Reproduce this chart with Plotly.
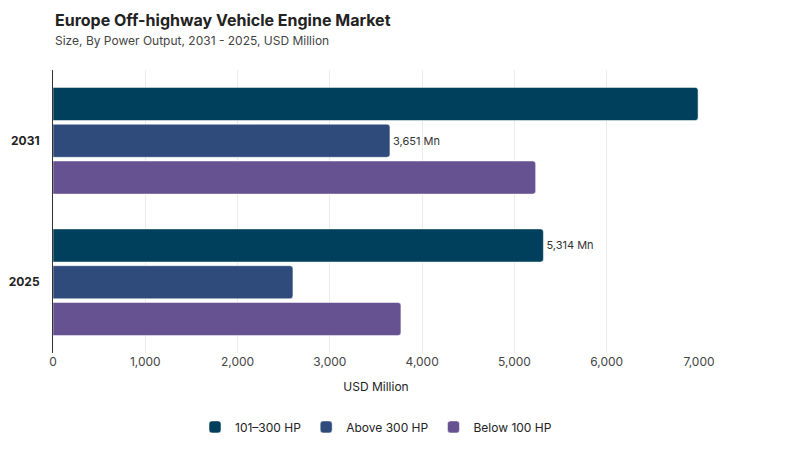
import plotly.graph_objects as go

years = ["2025", "2031"]
hp_101_300 = [5314, 6990]
above_300 = [2600, 3651]
below_100 = [3770, 5230]
labels_101_300 = ["5,314 Mn", ""]
labels_above_300 = ["", "3,651 Mn"]
labels_below_100 = ["", ""]

colors = {"101–300 HP": "#00405C", "Above 300 HP": "#2F4B7C", "Below 100 HP": "#665191"}

fig = go.Figure()
# plotly stacks horizontal groups bottom-up, so add in reverse
for name, vals, txt in [("Below 100 HP", below_100, labels_below_100),
                        ("Above 300 HP", above_300, labels_above_300),
                        ("101–300 HP", hp_101_300, labels_101_300)]:
    fig.add_trace(go.Bar(y=years, x=vals, name=name, orientation="h",
                         marker=dict(color=colors[name], cornerradius=3),
                         text=txt, textposition="outside", cliponaxis=False,
                         textfont=dict(size=11, color="#333333")))

fig.update_layout(
    width=800, height=450,
    template="plotly_white",
    font=dict(family="Inter", color="#222222"),
    barmode="group", bargap=0.22, bargroupgap=0.1,
    margin=dict(t=62, b=105, l=45, r=109, autoexpand=False),
    legend=dict(orientation="h", x=0.5, xanchor="center", y=-0.21, yanchor="top",
                traceorder="reversed", font=dict(size=12)),
    paper_bgcolor="white", plot_bgcolor="white",
)
fig.add_annotation(text="<b>Europe Off-highway Vehicle Engine Market</b>",
                   xref="paper", yref="paper", x=0, y=1, yshift=38,
                   xanchor="left", yanchor="bottom", showarrow=False,
                   font=dict(size=16, color="#222222"))
fig.add_annotation(text="Size, By Power Output, 2031 - 2025, USD Million",
                   xref="paper", yref="paper", x=0, y=1, yshift=20,
                   xanchor="left", yanchor="bottom", showarrow=False,
                   font=dict(size=12, color="#444444"))
fig.update_xaxes(range=[0, 7000], dtick=1000, tickformat=",", gridcolor="#EBEBEB",
                 title=dict(text="USD Million", font=dict(size=12), standoff=14),
                 zeroline=False, automargin=False,
                 tickfont=dict(size=12, color="#444444"))
fig.update_yaxes(showline=True, linecolor="#333333", linewidth=1, ticks="",
                 automargin=False, tickfont=dict(size=12, color="#222222"),
                 ticklabelstandoff=10,
                 ticktext=["<b>2025</b>", "<b>2031</b>"], tickvals=years)

fig.write_html("out.html")
